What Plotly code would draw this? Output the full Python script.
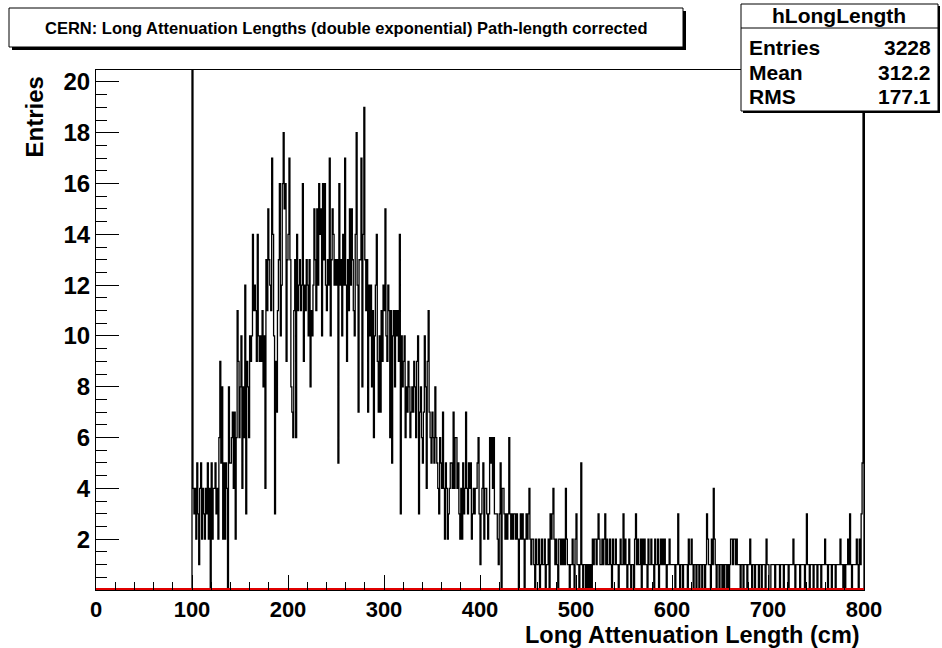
import plotly.graph_objects as go

# Bin contents of hLongLength, 1 cm bins; bins below 100 cm are empty.
counts_100_199 = [40, 4, 3, 4, 2, 5, 3, 1, 4, 5,
                  2, 4, 3, 2, 4, 3, 5, 2, 4, 0,
                  5, 2, 4, 4, 5, 3, 4, 2, 6, 9,
                  5, 8, 2, 5, 2, 5, 4, 0, 8, 5,
                  5, 6, 7, 4, 7, 2, 6, 11, 9, 6,
                  8, 10, 4, 8, 6, 12, 3, 9, 8, 6,
                  10, 9, 10, 14, 11, 12, 11, 9, 14, 10,
                  9, 10, 9, 11, 8, 10, 4, 13, 11, 15,
                  13, 12, 11, 17, 14, 10, 3, 9, 7, 11,
                  13, 16, 10, 12, 16, 18, 15, 16, 9, 13]
counts_200_299 = [14, 17, 13, 8, 7, 6, 11, 13, 6, 14,
                  11, 12, 13, 11, 12, 16, 9, 12, 11, 13,
                  12, 10, 13, 8, 11, 10, 12, 15, 13, 11,
                  15, 12, 16, 14, 15, 10, 16, 13, 16, 12,
                  11, 13, 12, 17, 10, 13, 15, 14, 12, 13,
                  12, 13, 5, 16, 12, 13, 10, 14, 12, 17,
                  12, 9, 13, 11, 15, 12, 15, 13, 11, 10,
                  14, 18, 12, 7, 13, 13, 17, 8, 14, 19,
                  13, 11, 13, 7, 12, 10, 12, 8, 11, 6,
                  10, 12, 14, 9, 7, 10, 7, 11, 9, 12]
counts_300_399 = [11, 15, 10, 9, 12, 11, 6, 11, 5, 10,
                  11, 8, 11, 10, 11, 9, 14, 3, 10, 8,
                  9, 10, 6, 8, 7, 9, 8, 6, 7, 8,
                  7, 9, 8, 6, 9, 10, 3, 7, 8, 6,
                  5, 7, 10, 8, 4, 9, 11, 7, 6, 5,
                  7, 6, 5, 8, 6, 5, 4, 3, 6, 5,
                  4, 7, 4, 2, 5, 4, 2, 3, 4, 5,
                  5, 4, 7, 4, 6, 6, 4, 5, 3, 2,
                  4, 2, 5, 3, 4, 7, 4, 3, 5, 4,
                  5, 2, 3, 4, 3, 4, 4, 5, 6, 3]
counts_400_499 = [1, 3, 4, 5, 2, 4, 4, 3, 2, 3,
                  6, 5, 6, 4, 6, 3, 3, 3, 2, 1,
                  3, 5, 0, 4, 4, 3, 2, 3, 2, 3,
                  6, 3, 2, 3, 2, 3, 3, 2, 3, 2,
                  0, 2, 3, 2, 3, 2, 0, 2, 3, 2,
                  3, 4, 2, 1, 2, 2, 1, 0, 2, 1,
                  1, 2, 0, 1, 2, 1, 1, 2, 0, 1,
                  1, 2, 0, 3, 2, 3, 4, 2, 1, 2,
                  1, 0, 2, 2, 1, 2, 1, 2, 1, 4,
                  2, 1, 1, 0, 1, 1, 2, 1, 0, 2]
counts_500_599 = [3, 1, 1, 0, 1, 5, 1, 0, 1, 1,
                  0, 1, 0, 1, 0, 1, 0, 2, 1, 2,
                  2, 1, 2, 3, 2, 1, 1, 2, 1, 2,
                  3, 1, 2, 1, 1, 2, 1, 0, 2, 1,
                  1, 2, 1, 1, 0, 1, 2, 1, 1, 3,
                  1, 2, 1, 0, 1, 2, 1, 0, 1, 1,
                  0, 2, 3, 1, 2, 1, 1, 2, 0, 2,
                  1, 2, 1, 1, 0, 2, 1, 1, 2, 1,
                  1, 0, 2, 1, 1, 2, 0, 1, 2, 1,
                  2, 1, 2, 1, 0, 1, 1, 2, 1, 1]
counts_600_699 = [1, 1, 1, 0, 1, 1, 3, 1, 0, 1,
                  1, 0, 1, 1, 1, 1, 0, 2, 1, 1,
                  2, 1, 0, 1, 1, 0, 1, 1, 0, 1,
                  1, 0, 1, 1, 0, 1, 3, 2, 1, 1,
                  0, 2, 1, 4, 2, 1, 0, 1, 1, 0,
                  1, 1, 0, 1, 0, 1, 1, 0, 1, 0,
                  1, 2, 2, 1, 2, 2, 1, 2, 1, 1,
                  1, 0, 1, 1, 0, 1, 1, 1, 0, 1,
                  1, 2, 1, 0, 1, 1, 0, 1, 1, 1,
                  0, 1, 1, 0, 1, 1, 1, 0, 2, 1]
counts_700_799 = [1, 0, 0, 1, 1, 1, 1, 0, 1, 1,
                  1, 1, 0, 1, 1, 1, 0, 1, 1, 1,
                  1, 0, 1, 1, 1, 1, 2, 1, 0, 1,
                  1, 1, 1, 0, 1, 1, 1, 1, 0, 1,
                  3, 1, 1, 0, 1, 1, 1, 0, 1, 1,
                  1, 0, 1, 1, 1, 0, 1, 1, 1, 2,
                  1, 1, 0, 1, 1, 1, 0, 1, 1, 1,
                  0, 1, 1, 1, 1, 2, 1, 1, 0, 1,
                  0, 1, 1, 2, 1, 3, 1, 0, 1, 1,
                  1, 1, 2, 1, 0, 2, 1, 3, 5, 40]

x_min, x_max = 0, 800
first_bin = 100
x_ticks = list(range(0, 801, 100))
y_ticks = list(range(2, 21, 2))
stats = [("Entries", "3228"), ("Mean", "312.2"), ("RMS", "177.1")]

counts = (counts_100_199 + counts_200_299 + counts_300_399 + counts_400_499
          + counts_500_599 + counts_600_699 + counts_700_799)
low_edges = [first_bin + i for i in range(len(counts))]

# step outline: rise at the first edge, one horizontal run per bin, drop at the last edge
step_x = [x_min, first_bin] + low_edges + [x_max]
step_y = [0, 0] + counts + [0]

FONT = "Liberation Sans, Arial, Helvetica, sans-serif"

fig = go.Figure()
fig.add_trace(go.Scatter(x=step_x, y=step_y, mode="lines", line_shape="hv",
                         line=dict(color="black", width=1.3), hoverinfo="skip"))
fig.add_trace(go.Scatter(x=[x_min, x_max], y=[0, 0], mode="lines",
                         line=dict(color="#e00000", width=4), hoverinfo="skip"))

# plot frame in pixels
L, R, T, B = 96, 864, 70, 590
W, H = 942, 648
pw, ph = R - L, B - T


def px(v):
    return (v - L) / pw


def py(v):
    return (B - v) / ph


shapes = []


def box(x0, y0, x1, y1, shadow=3):
    shapes.append(dict(type="rect", xref="paper", yref="paper",
                       x0=px(x0 + shadow), x1=px(x1 + shadow),
                       y0=py(y0 + shadow), y1=py(y1 + shadow),
                       fillcolor="black", line=dict(width=0), layer="above"))
    shapes.append(dict(type="rect", xref="paper", yref="paper",
                       x0=px(x0), x1=px(x1), y0=py(y0), y1=py(y1),
                       fillcolor="white", line=dict(color="black", width=1),
                       layer="above"))


# title box
box(9, 8, 683, 47)
# statistics box
box(741, 4, 938, 111, shadow=2)
shapes.append(dict(type="line", xref="paper", yref="paper",
                   x0=px(741), x1=px(938), y0=py(28), y1=py(28),
                   line=dict(color="black", width=1), layer="above"))


def label(text, x, y, size, xanchor="center", yanchor="middle", angle=0):
    return dict(text=f"<b>{text}</b>", x=px(x), y=py(y), xref="paper", yref="paper",
                showarrow=False, xanchor=xanchor, yanchor=yanchor, textangle=angle,
                font=dict(family=FONT, size=size, color="black"))


annotations = [
    label("CERN: Long Attenuation Lengths (double exponential) Path-length corrected",
          346, 27.5, 16.5),
    label("hLongLength", 839, 15.5, 21),
    label("Long Attenuation Length (cm)", 862, 635, 23.5, xanchor="right"),
    label("Entries", 34, 75, 24, yanchor="top", angle=-90),
]
row_y = [47.5, 72, 96.5]
for (name, val), yy in zip(stats, row_y):
    annotations.append(label(name, 747, yy, 21, xanchor="left"))
    annotations.append(label(val, 933, yy, 21, xanchor="right"))

tick_font = dict(family=FONT, size=22, color="black")

fig.update_layout(
    width=W, height=H,
    margin=dict(l=L, r=W - R, t=T, b=H - B, pad=0),
    paper_bgcolor="white", plot_bgcolor="white",
    showlegend=False,
    shapes=shapes, annotations=annotations,
    xaxis=dict(range=[x_min, x_max], tickmode="array", tickvals=x_ticks,
               ticktext=[f"<b>{v}</b>" for v in x_ticks],
               ticks="inside", ticklen=15, tickwidth=1, tickcolor="black",
               minor=dict(tickmode="linear", tick0=0, dtick=20, ticks="inside",
                          ticklen=8, tickwidth=1, tickcolor="black"),
               showgrid=False, zeroline=False, showline=True, linecolor="black",
               linewidth=1, mirror=True, tickfont=tick_font),
    yaxis=dict(range=[0, 20.47], tickmode="array", tickvals=y_ticks,
               ticktext=[f"<b>{v}</b>" for v in y_ticks],
               ticks="inside", ticklen=23, tickwidth=1, tickcolor="black",
               minor=dict(tickmode="linear", tick0=0, dtick=0.5, ticks="inside",
                          ticklen=11, tickwidth=1, tickcolor="black"),
               showgrid=False, zeroline=False, showline=True, linecolor="black",
               linewidth=1, mirror=True, tickfont=dict(family=FONT, size=24, color="black")),
)

fig.write_html("out.html")
